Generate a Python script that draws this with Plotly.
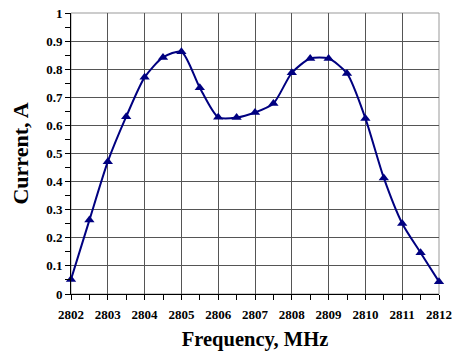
import plotly.graph_objects as go

freq = [2802, 2802.5, 2803, 2803.5, 2804, 2804.5, 2805, 2805.5, 2806, 2806.5, 2807,
        2807.5, 2808, 2808.5, 2809, 2809.5, 2810, 2810.5, 2811, 2811.5, 2812]
current = [0.052, 0.263, 0.471, 0.631, 0.771, 0.842, 0.862, 0.734, 0.629, 0.628, 0.646,
           0.678, 0.787, 0.838, 0.838, 0.785, 0.625, 0.413, 0.251, 0.147, 0.044]
x_ticks = list(range(2802, 2813))
y_ticks = [0, 0.1, 0.2, 0.3, 0.4, 0.5, 0.6, 0.7, 0.8, 0.9, 1]
y_labels = ["0", "0.1", "0.2", "0.3", "0.4", "0.5", "0.6", "0.7", "0.8", "0.9", "1"]

navy = "#000080"
font = "'Liberation Serif', 'Times New Roman', 'DejaVu Serif', serif"

fig = go.Figure()
fig.add_trace(go.Scatter(
    x=freq, y=current, mode="lines+markers",
    line=dict(color=navy, width=2, shape="spline", smoothing=0.7),
    marker=dict(symbol="triangle-up", size=9, color=navy),
    cliponaxis=False, showlegend=False,
))

fig.update_layout(
    width=452, height=354,
    margin=dict(l=71, r=13, t=13, b=60),
    paper_bgcolor="white", plot_bgcolor="white",
    font=dict(family=font, color="black"),
    xaxis=dict(
        range=[2802, 2812], tickvals=x_ticks, ticktext=["<b>%d</b>" % v for v in x_ticks],
        tickfont=dict(family=font, size=13, color="black"),
        ticklabelstandoff=3,
        showgrid=True, gridcolor="#555555", gridwidth=1,
        showline=True, linecolor="black", linewidth=1,
        ticks="outside", ticklen=5, tickcolor="black",
        minor=dict(dtick=0.5, tick0=2802, ticks="outside", ticklen=5, tickcolor="black", showgrid=False),
        zeroline=False, automargin=False,
        title=dict(text="<b>Frequency, MHz</b>", font=dict(family=font, size=20.5, color="black"), standoff=11),
    ),
    yaxis=dict(
        range=[0, 1], tickvals=y_ticks, ticktext=["<b>%s</b>" % s for s in y_labels],
        tickfont=dict(family=font, size=13, color="black"),
        showgrid=True, gridcolor="#555555", gridwidth=1,
        showline=True, linecolor="black", linewidth=1,
        ticks="outside", ticklen=5, tickcolor="black",
        minor=dict(dtick=0.05, tick0=0, ticks="outside", ticklen=5, tickcolor="black", showgrid=False),
        zeroline=False, automargin=False,
        title=dict(text="<b>Current, A</b>", font=dict(family=font, size=22, color="black"), standoff=11),
    ),
)
fig.add_shape(type="rect", xref="paper", yref="paper", x0=0, y0=0, x1=1, y1=1,
              line=dict(color="#999999", width=1), layer="below")

fig.write_html("out.html", config={"displayModeBar": False},
               post_script="document.body.style.margin='0';document.body.style.overflow='hidden';")
